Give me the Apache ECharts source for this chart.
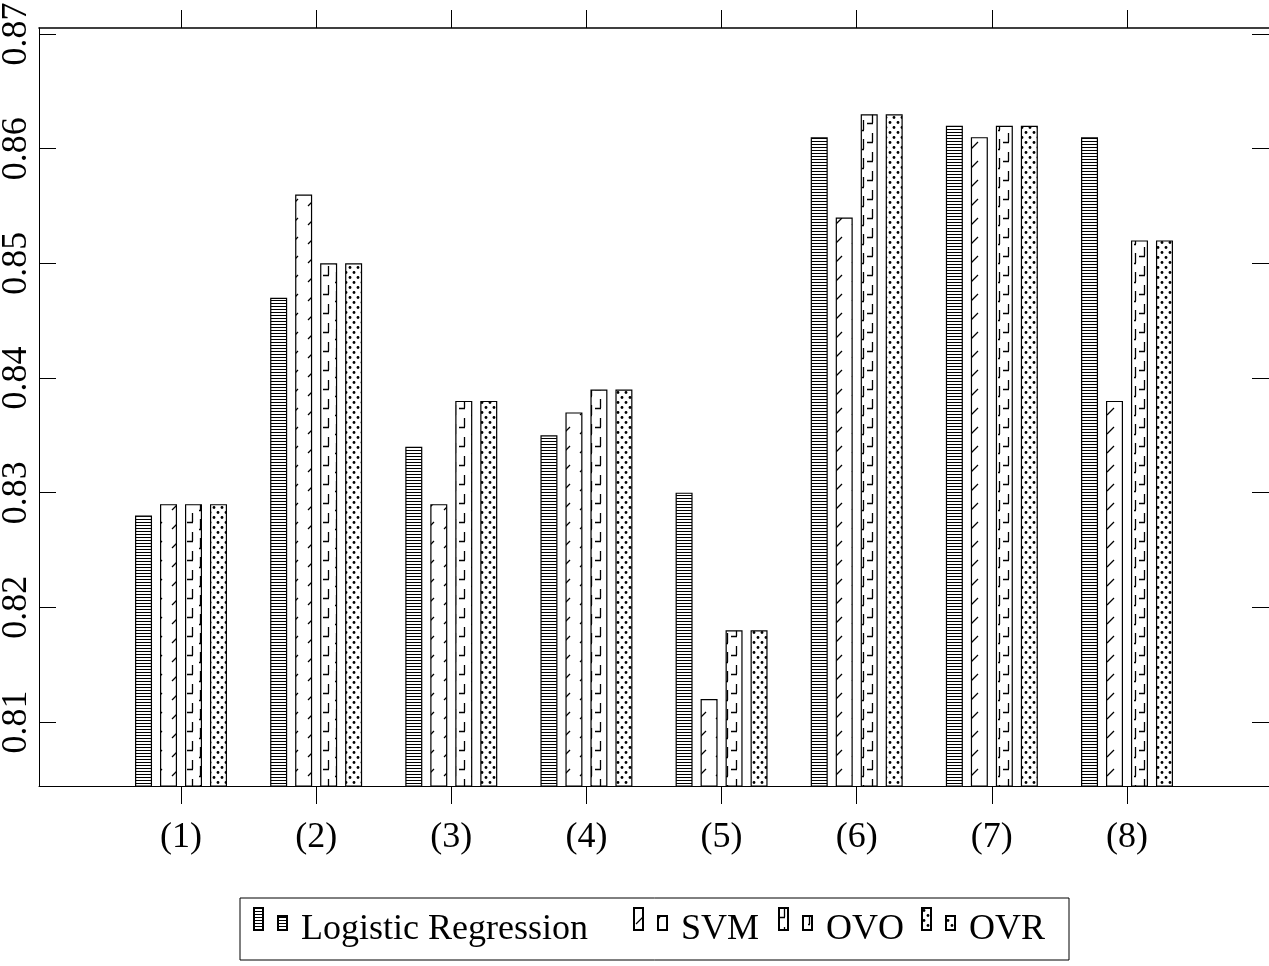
<!DOCTYPE html>
<html>
<head>
<meta charset="utf-8">
<script src="https://cdn.jsdelivr.net/npm/echarts@6/dist/echarts.min.js"></script>
<style>html,body{margin:0;padding:0;background:#fff}#c{width:1269px;height:966px}</style>
</head>
<body>
<div id="c"></div>
<script>
// ---- data ----
const categories = [1, 2, 3, 4, 5, 6, 7, 8];
const seriesNames = ['Logistic Regression', 'SVM', 'OVO', 'OVR'];
const logisticRegression = [0.828, 0.847, 0.834, 0.835, 0.830, 0.861, 0.862, 0.861];
const svm = [0.829, 0.856, 0.829, 0.837, 0.812, 0.854, 0.861, 0.838];
const ovo = [0.829, 0.850, 0.838, 0.839, 0.818, 0.863, 0.862, 0.852];
const ovr = [0.829, 0.850, 0.838, 0.839, 0.818, 0.863, 0.862, 0.852];
const yTicks = [0.81, 0.82, 0.83, 0.84, 0.85, 0.86, 0.87];

// ---- patterns ----
function tile(w, h, draw) {
  const c = document.createElement('canvas');
  c.width = w; c.height = h;
  const ctx = c.getContext('2d');
  ctx.fillStyle = '#fff'; ctx.fillRect(0, 0, w, h);
  ctx.fillStyle = '#000'; ctx.strokeStyle = '#000';
  draw(ctx);
  return { image: c, repeat: 'repeat' };
}
const patLR = tile(4, 3, ctx => { ctx.fillRect(0, 0, 4, 1); });
const patSVM = tile(17, 19, ctx => {
  ctx.lineWidth = 1.3; ctx.beginPath(); ctx.moveTo(2, 16); ctx.lineTo(9, 9); ctx.stroke();
});
const patOVO = tile(17, 19, ctx => {
  ctx.lineWidth = 1.3; ctx.beginPath();
  ctx.moveTo(5.5, 0); ctx.lineTo(5.5, 9); ctx.moveTo(0, 9.5); ctx.lineTo(6, 9.5);
  ctx.moveTo(13.5, 6); ctx.lineTo(13.5, 16); ctx.moveTo(12, 16.5); ctx.lineTo(14, 16.5);
  ctx.stroke();
});
const patOVR = tile(8, 10, ctx => {
  ctx.beginPath(); ctx.arc(2, 2.5, 1.4, 0, Math.PI * 2); ctx.fill();
  ctx.beginPath(); ctx.arc(6, 7.5, 1.4, 0, Math.PI * 2); ctx.fill();
});
const patterns = [patLR, patSVM, patOVO, patOVR];
const values = [logisticRegression, svm, ovo, ovr];
const legendWidths = [320, 85, 83, 84];

const FONT = '"Liberation Serif", "DejaVu Serif", serif';
const xMin = -0.0508, xMax = 9.0508;
const yMin = 0.80442, yMax = 0.87052;

const rich = {};
seriesNames.forEach((n, i) => {
  rich['w' + i] = { width: legendWidths[i], height: 12, lineHeight: 12, padding: [22, 0, 0, 0],
    fontFamily: FONT, fontSize: 36, color: '#000' };
});

const chart = echarts.init(document.getElementById('c'), null, { renderer: 'canvas' });
chart.setOption({
  animation: false,
  backgroundColor: '#fff',
  grid: { left: 39, right: 0, top: 28, bottom: 180, containLabel: false, outerBoundsMode: 'none' },
  xAxis: [
    {
      type: 'value', position: 'bottom', min: xMin, max: xMax,
      axisLine: { show: true, onZero: false, lineStyle: { color: '#000', width: 1 } },
      axisTick: { show: true, inside: false, length: 18, customValues: categories, lineStyle: { color: '#000' } },
      axisLabel: { show: true, customValues: categories, margin: 34, color: '#000', fontFamily: FONT, fontSize: 36,
        formatter: v => '(' + v + ')' },
      splitLine: { show: false }
    },
    {
      type: 'value', position: 'top', min: xMin, max: xMax,
      axisLine: { show: true, onZero: false, lineStyle: { color: '#000', width: 1.6 } },
      axisTick: { show: true, inside: false, length: 18, customValues: categories, lineStyle: { color: '#000' } },
      axisLabel: { show: false },
      splitLine: { show: false }
    }
  ],
  yAxis: [
    {
      type: 'value', position: 'left', min: yMin, max: yMax,
      axisLine: { show: true, onZero: false, lineStyle: { color: '#000', width: 1 } },
      axisTick: { show: true, inside: true, length: 17, customValues: yTicks, lineStyle: { color: '#000' } },
      axisLabel: { show: true, customValues: yTicks, rotate: 90, margin: 4, color: '#000', fontFamily: FONT, fontSize: 36,
        formatter: v => v.toFixed(2) },
      splitLine: { show: false }
    },
    {
      type: 'value', position: 'right', min: yMin, max: yMax,
      axisLine: { show: false, onZero: false },
      axisTick: { show: true, inside: true, length: 17, customValues: yTicks, lineStyle: { color: '#000' } },
      axisLabel: { show: false },
      splitLine: { show: false }
    }
  ],
  legend: {
    left: 240, top: 898,
    orient: 'horizontal',
    padding: [4, 16, 12, 13],
    itemGap: 12,
    itemWidth: 33, itemHeight: 22,
    borderColor: '#000', borderWidth: 1,
    icon: 'path://M0,0h9v22h-9zM24,8h9v14h-9z',
    selectedMode: false,
    textStyle: { fontFamily: FONT, fontSize: 36, lineHeight: 12, color: '#000', padding: [0, 0, 0, 9], rich: rich },
    formatter: name => '{w' + seriesNames.indexOf(name) + '|' + name + '}',
    data: seriesNames
  },
  series: seriesNames.map((name, i) => ({
    name: name,
    type: 'bar',
    xAxisIndex: 0, yAxisIndex: 0,
    barWidth: 17,
    barGap: '47%',
    data: categories.map((c, k) => [c, values[i][k]]),
    itemStyle: { color: patterns[i], borderColor: '#000', borderWidth: 1.2 },
    emphasis: { disabled: true },
    silent: true
  }))
});
</script>
</body>
</html>
